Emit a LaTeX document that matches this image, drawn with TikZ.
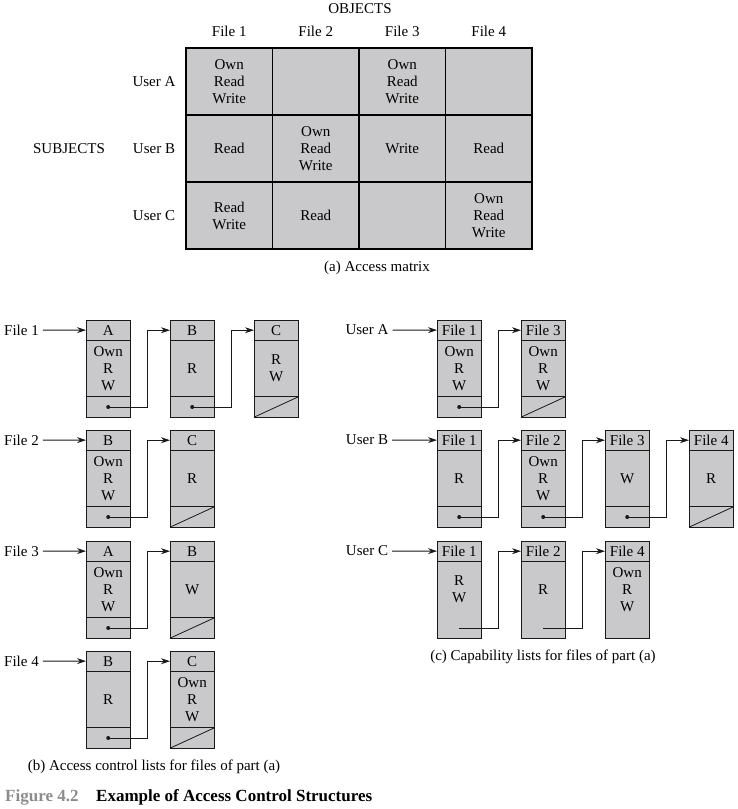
\documentclass[tikz,border=0pt]{standalone}
\usepackage{fontspec}
\setmainfont{Liberation Serif}
\usetikzlibrary{arrows.meta,calc}
\definecolor{cellgray}{RGB}{201,201,203}
\definecolor{capgray}{RGB}{140,140,140}
\definecolor{linec}{RGB}{25,25,25}
\tikzset{
  hdrnode/.style={fill=cellgray, minimum width=44pt, minimum height=20pt, inner sep=0pt, anchor=north west},
  bodynode/.style={fill=cellgray, minimum width=44pt, minimum height=56pt, inner sep=0pt, anchor=north west, align=center},
  ptrnode/.style={fill=cellgray, minimum width=44pt, minimum height=20pt, inner sep=0pt, anchor=north west},
  boxline/.style={draw=linec, line width=0.8pt},
  conn/.style={draw=linec, line width=1pt, -{Stealth[length=9pt,width=6pt]}},
  lab/.style={inner sep=4pt},
  mcell/.style={draw=black, line width=1.9pt, fill=cellgray, minimum width=86.5pt, minimum height=67pt, inner sep=0pt, align=center},
  capfont/.style={font=\fontsize{17}{19}\selectfont\bfseries}
}
\newcommand\lbox[5]{%
  \node[hdrnode] (#1h) at (#2,#3) {#4};
  \node[bodynode] (#1b) at (#1h.south west) {#5};
  \node[ptrnode] (#1p) at (#1b.south west) {};
  \draw[boxline] (#1h.north west) rectangle (#1p.south east);
  \draw[boxline] (#1h.south west) -- (#1h.south east);
}
\newcommand\psep[1]{\draw[boxline] (#1b.south west) -- (#1b.south east);}
\newcommand\pdot[1]{\psep{#1}\fill[linec] (#1p.center) circle (2pt);}
\newcommand\pnil[1]{\psep{#1}\draw[boxline] (#1p.south west) -- (#1p.north east);}
\newcommand\plink[2]{\draw[conn] (#1p.center) -| ($(#2h.west)+(-23,0)$) -- (#2h.west);}
\begin{document}
\begin{tikzpicture}[x=1pt,y=-1pt,font=\fontsize{15}{17}\selectfont]
\useasboundingbox (0,0) rectangle (737,809);
% ---------- (a) access matrix ----------
\node (obj) at (360,9) {OBJECTS};
\node (f1) at (229.25,31) {File 1};
\node (f2) at (315.75,31) {File 2};
\node (f3) at (402.25,31) {File 3};
\node (f4) at (488.75,31) {File 4};
\node (subj) at (69,149) {SUBJECTS};
\node (ua) at (154,82) {User A};
\node (ub) at (154,149) {User B};
\node (uc) at (154,216) {User C};
\node[mcell] (m11) at (229.25,81.5) {Own\\Read\\Write};
\node[mcell] (m12) at (315.75,81.5) {};
\node[mcell] (m13) at (402.25,81.5) {Own\\Read\\Write};
\node[mcell] (m14) at (488.75,81.5) {};
\node[mcell] (m21) at (229.25,148.5) {Read};
\node[mcell] (m22) at (315.75,148.5) {Own\\Read\\Write};
\node[mcell] (m23) at (402.25,148.5) {Write};
\node[mcell] (m24) at (488.75,148.5) {Read};
\node[mcell] (m31) at (229.25,215.5) {Read\\Write};
\node[mcell] (m32) at (315.75,215.5) {Read};
\node[mcell] (m33) at (402.25,215.5) {};
\node[mcell] (m34) at (488.75,215.5) {Own\\Read\\Write};
\node (capa) at (377,268) {(a) Access matrix};
% ---------- (b) access control lists ----------
\node[lab] (lf1) at (21.5,330) {File 1};
\lbox{a1}{86}{320}{A}{Own\\R\\W}\pdot{a1}
\lbox{a2}{170}{320}{B}{R}\pdot{a2}
\lbox{a3}{254}{320}{C}{R\\W}\pnil{a3}
\draw[conn] (lf1) -- (a1h);
\plink{a1}{a2}\plink{a2}{a3}
\node[lab] (lf2) at (21.5,440) {File 2};
\lbox{b1}{86}{430}{B}{Own\\R\\W}\pdot{b1}
\lbox{b2}{170}{430}{C}{R}\pnil{b2}
\draw[conn] (lf2) -- (b1h);
\plink{b1}{b2}
\node[lab] (lf3) at (21.5,551) {File 3};
\lbox{c1}{86}{541}{A}{Own\\R\\W}\pdot{c1}
\lbox{c2}{170}{541}{B}{W}\pnil{c2}
\draw[conn] (lf3) -- (c1h);
\plink{c1}{c2}
\node[lab] (lf4) at (21.5,661) {File 4};
\lbox{d1}{86}{651}{B}{R}\pdot{d1}
\lbox{d2}{170}{651}{C}{Own\\R\\W}\pnil{d2}
\draw[conn] (lf4) -- (d1h);
\plink{d1}{d2}
\node (capb) at (154,767) {(b) Access control lists for files of part (a)};
% ---------- (c) capability lists ----------
\node[lab] (lua) at (367,330) {User A};
\lbox{p1}{437}{320}{File 1}{Own\\R\\W}\pdot{p1}
\lbox{p2}{521}{320}{File 3}{Own\\R\\W}\pnil{p2}
\draw[conn] (lua) -- (p1h);
\plink{p1}{p2}
\node[lab] (lub) at (367,440) {User B};
\lbox{q1}{437}{430}{File 1}{R}\pdot{q1}
\lbox{q2}{521}{430}{File 2}{Own\\R\\W}\pdot{q2}
\lbox{q3}{605}{430}{File 3}{W}\pdot{q3}
\lbox{q4}{689}{430}{File 4}{R}\pnil{q4}
\draw[conn] (lub) -- (q1h);
\plink{q1}{q2}\plink{q2}{q3}\plink{q3}{q4}
\node[lab] (luc) at (367,551) {User C};
\lbox{r1}{437}{541}{File 1}{R\\W}
\lbox{r2}{521}{541}{File 2}{R}
\lbox{r3}{605}{541}{File 4}{Own\\R\\W}
\draw[conn] (luc) -- (r1h);
\plink{r1}{r2}\plink{r2}{r3}
\node (capc) at (543,657) {(c) Capability lists for files of part (a)};
% ---------- caption ----------
\node[capfont, anchor=west, inner sep=0pt, text=capgray] (fig) at (5,797) {Figure 4.2};
\node[capfont, anchor=west, inner sep=0pt] (figt) at (96,797) {Example of Access Control Structures};
\end{tikzpicture}
\end{document}
